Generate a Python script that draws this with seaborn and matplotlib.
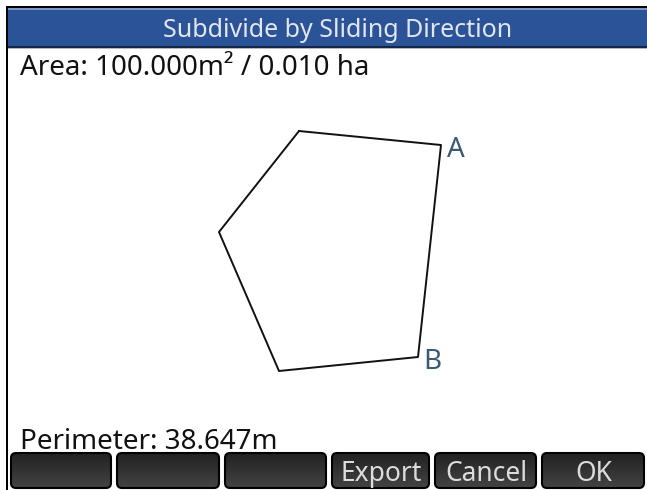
#!/usr/bin/env python3
"""Recreate the 'Subdivide by Sliding Direction' calculator screen."""

import numpy as np
import matplotlib
matplotlib.use('Agg')
import matplotlib.pyplot as plt
from matplotlib.patches import Rectangle, FancyBboxPatch
import seaborn as sns

# parcel vertices in metres (x east, y north), ring order
poly_x = [4.0, 11.1, 9.95, 3.0, 0.0]
poly_y = [12.0, 11.3, 0.7, 0.0, 6.95]
label_at = [1, 2]  # indices of labelled vertices
label_names = ['A', 'B']

title = 'Subdivide by Sliding Direction'
area_text = 'Area: 100.000m\u00b2 / 0.010 ha'
perim_text = 'Perimeter: 38.647m'
buttons = ['', '', '', 'Export', 'Cancel', 'OK']

W, H = 647, 490

sns.set_theme(style='white')
plt.rcParams['font.family'] = ['Noto Sans', 'DejaVu Sans']

fig = plt.figure(figsize=(W / 100, H / 100), dpi=100)
fig.patch.set_facecolor('white')

# screen chrome, in pixel coordinates
ax = fig.add_axes([0, 0, 1, 1])
ax.set_xlim(0, W)
ax.set_ylim(H, 0)
ax.axis('off')

# outer frame
ax.add_patch(Rectangle((6, 6), 2, H - 6, facecolor='black', edgecolor='none'))
ax.add_patch(Rectangle((6, 6), W - 6, 2, facecolor='black', edgecolor='none'))

# title bar
ax.add_patch(Rectangle((8, 8), W - 8, 39, facecolor='#2a5398', edgecolor='none'))
ax.add_patch(Rectangle((8, 8), W - 8, 2, facecolor='#7d98c8', edgecolor='none'))
ax.add_patch(Rectangle((8, 46), W - 8, 2, facecolor='#16264a', edgecolor='none'))
ax.add_patch(Rectangle((8, 48), W - 8, 1.5, facecolor='#b8b8b8', edgecolor='none'))
ax.text(338, 37, title, color='#e2e6ee', fontsize=18, ha='center', va='baseline')

ax.text(20, 75, area_text, color='#111111', fontsize=20, ha='left', va='baseline')
ax.text(20, 449, perim_text, color='#111111', fontsize=20, ha='left', va='baseline')

# soft-key buttons
btn_left = [10, 116, 224, 331, 434, 541]
btn_right = [112, 220, 327, 430, 537, 645]
grad = np.linspace(0, 1, 64).reshape(-1, 1)
cmap = matplotlib.colors.LinearSegmentedColormap.from_list('btn', ['#222222', '#444444'])
for lab, x0, x1 in zip(buttons, btn_left, btn_right):
    box = FancyBboxPatch((x0 + 1, 453), x1 - x0 - 2, 35,
                         boxstyle='round,pad=0,rounding_size=5',
                         facecolor='none', edgecolor='black', lw=1.5, zorder=3)
    ax.add_patch(box)
    im = ax.imshow(grad, extent=(x0, x1, 489, 453), cmap=cmap, aspect='auto',
                   interpolation='bilinear', zorder=2)
    im.set_clip_path(box)
    if lab:
        ax.text((x0 + x1) / 2 + 1, 481, lab, color='#dcdcdc', fontsize=19,
                ha='center', va='baseline', zorder=4)
ax.set_xlim(0, W)
ax.set_ylim(H, 0)

# parcel drawing: 20 px per metre, origin at pixel (219, 371)
px0, py0, scale = 219, 371, 20
left_px, right_px, top_px, bot_px = 200, 470, 110, 395
pax = fig.add_axes([left_px / W, 1 - bot_px / H,
                    (right_px - left_px) / W, (bot_px - top_px) / H])
pax.set_xlim((left_px - px0) / scale, (right_px - px0) / scale)
pax.set_ylim((py0 - bot_px) / scale, (py0 - top_px) / scale)
pax.axis('off')
pax.patch.set_alpha(0)

ring_x = poly_x + poly_x[:1]
ring_y = poly_y + poly_y[:1]
sns.lineplot(x=ring_x, y=ring_y, sort=False, estimator=None,
             color='#111111', linewidth=1.4, ax=pax)
for i, name in zip(label_at, label_names):
    pax.annotate(name, (poly_x[i], poly_y[i]), xytext=(4, -8.3),
                 textcoords='offset points', color='#3b5a74', fontsize=20,
                 ha='left', va='baseline', annotation_clip=False)

fig.savefig('out.png', dpi=100)
plt.close(fig)
